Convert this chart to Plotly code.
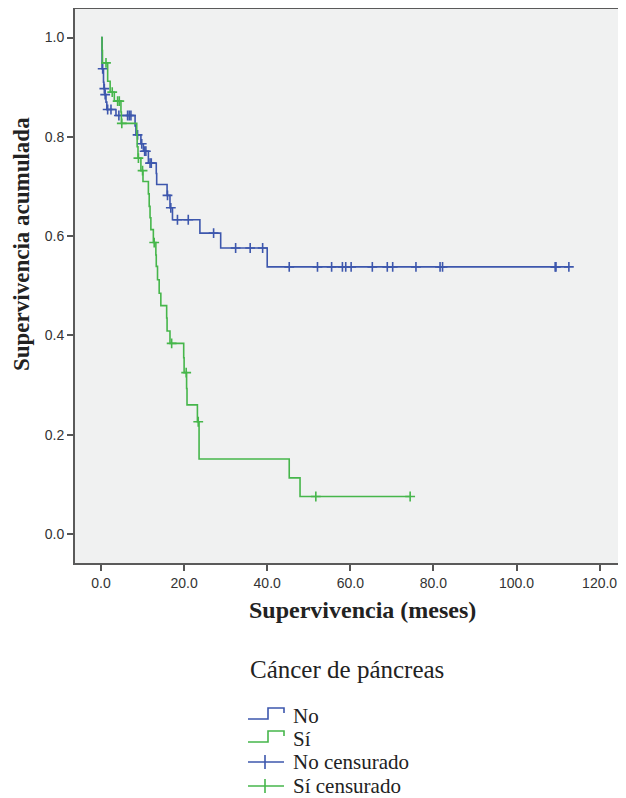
import numpy as np
import plotly.graph_objects as go

# ---- Data (Kaplan-Meier steps) ----
no_event_t = [0.25, 0.6, 0.7, 0.9, 1.2, 1.4, 3.6, 8.2, 8.4, 9.6, 10.2, 11.4, 13.3, 13.4,
              15.9, 16.6, 17.2, 23.8, 28.8, 40.0]
no_event_s = [0.937, 0.91, 0.897, 0.885, 0.87, 0.855, 0.843, 0.822, 0.804, 0.786, 0.771,
              0.747, 0.726, 0.704, 0.682, 0.657, 0.633, 0.606, 0.576, 0.538]
no_censor_t = [0.4, 0.8, 1.0, 1.6, 2.4, 4.3, 6.4, 6.8, 7.2, 8.8, 9.8, 10.5, 10.8, 11.8, 12.1,
               16.0, 16.8, 18.4, 21.0, 27.1, 32.4, 35.9, 38.9, 45.3, 52.1, 55.5, 58.1, 58.9,
               60.2, 65.3, 68.9, 70.2, 75.8, 81.6, 82.2, 109.3, 109.5, 112.6]

si_event_t = [0.25, 0.35, 1.6, 2.2, 3.2, 4.8, 4.9, 8.6, 8.7, 8.9, 9.6, 10.1, 11.4, 11.6, 11.8,
              12.0, 12.6, 13.2, 13.3, 13.6, 14.0, 14.4, 15.8, 15.9, 16.6, 19.9, 20.0, 20.6,
              20.7, 23.2, 23.6, 45.3, 47.9]
si_event_s = [0.974, 0.949, 0.912, 0.89, 0.872, 0.85, 0.827, 0.805, 0.78, 0.757, 0.732, 0.71,
              0.685, 0.66, 0.637, 0.613, 0.587, 0.562, 0.539, 0.512, 0.485, 0.46, 0.435, 0.409,
              0.384, 0.355, 0.325, 0.293, 0.26, 0.226, 0.151, 0.113, 0.0755]
si_censor_t = [1.2, 2.7, 4.0, 4.4, 5.0, 9.0, 10.0, 12.8, 17.0, 20.5, 23.4, 51.7, 74.4]

x_ticks = [0, 20, 40, 60, 80, 100, 120]
x_tick_labels = ["0.0", "20.0", "40.0", "60.0", "80.0", "100.0", "120.0"]
y_ticks = [0.0, 0.2, 0.4, 0.6, 0.8, 1.0]
y_tick_labels = ["0.0", "0.2", "0.4", "0.6", "0.8", "1.0"]

series_names = ["No", "Sí"]
censor_names = ["No censurado", "Sí censurado"]
legend_title = "Cáncer de páncreas"
x_title = "Supervivencia (meses)"
y_title = "Supervivencia acumulada"

BLUE = "#3d57ad"
GREEN = "#46b64b"


def step_value(ev_t, ev_s, t):
    ev_t = np.asarray(ev_t)
    idx = np.searchsorted(ev_t, t, side="right") - 1
    return 1.0 if idx < 0 else ev_s[idx]


fig = go.Figure()
for ev_t, ev_s, cen_t, col in [(no_event_t, no_event_s, no_censor_t, BLUE),
                               (si_event_t, si_event_s, si_censor_t, GREEN)]:
    xs = [0.0] + list(ev_t)
    ys = [1.0] + list(ev_s)
    end_t = max(cen_t)
    if end_t > xs[-1]:
        xs.append(end_t)
        ys.append(ys[-1])
    fig.add_trace(go.Scatter(x=xs, y=ys, mode="lines", line=dict(color=col, width=1.6, shape="hv"),
                             showlegend=False, hoverinfo="skip"))
    cy = [step_value(ev_t, ev_s, t) for t in cen_t]
    fig.add_trace(go.Scatter(x=cen_t, y=cy, mode="markers",
                             marker=dict(symbol="cross-thin", size=7, line=dict(color=col, width=1.6)),
                             showlegend=False, hoverinfo="skip"))

# ---- layout geometry (pixels); page body has an 8px margin ----
OFF = 8
W, H = 618, 790
L, R, T = 67, 0, 1
PH = 554
B = H - T - PH
PW = W - L - R
PLOT_LEFT = OFF + L
PLOT_BOTTOM = OFF + T + PH


def px(x):
    return (x - PLOT_LEFT) / PW


def py(y):
    return (PLOT_BOTTOM - y) / PH


fig.update_layout(
    width=W, height=H,
    margin=dict(l=L, r=R, t=T, b=B),
    paper_bgcolor="white",
    plot_bgcolor="#f0f1f1",
    showlegend=False,
    xaxis=dict(range=[-6.26, 126.35], tickvals=x_ticks, ticktext=x_tick_labels,
               ticks="outside", ticklen=6, tickwidth=1.5, tickcolor="#555555",
               showgrid=False, zeroline=False, showline=True, linecolor="#5a5a5a",
               linewidth=2, mirror=True,
               tickfont=dict(family="Liberation Sans, Arial", size=14, color="#333333")),
    yaxis=dict(range=[-0.0585, 1.0575], tickvals=y_ticks, ticktext=y_tick_labels,
               ticks="outside", ticklen=6, tickwidth=1.5, tickcolor="#555555",
               showgrid=False, zeroline=False, showline=True, linecolor="#5a5a5a",
               linewidth=2, mirror=False,
               tickfont=dict(family="Liberation Sans, Arial", size=14, color="#333333")),
)

serif = "Liberation Serif, Times New Roman, serif"
ann = []
ann.append(dict(text=f"<b>{x_title}</b>", x=px(362), y=py(610), xref="paper", yref="paper",
                showarrow=False, xanchor="center", yanchor="middle",
                font=dict(family=serif, size=24, color="#222222")))
ann.append(dict(text=f"<b>{y_title}</b>", x=px(21), y=py(244), xref="paper", yref="paper",
                showarrow=False, xanchor="center", yanchor="middle", textangle=-90,
                font=dict(family=serif, size=23, color="#222222")))
ann.append(dict(text=legend_title, x=px(248), y=py(669), xref="paper", yref="paper",
                showarrow=False, xanchor="left", yanchor="middle",
                font=dict(family=serif, size=25, color="#222222")))

rows = [716, 739, 762, 786]
labels = series_names + censor_names
colors = [BLUE, GREEN, BLUE, GREEN]
shapes = []
for i, (ry, lab, col) in enumerate(zip(rows, labels, colors)):
    ann.append(dict(text=lab, x=px(291), y=py(ry), xref="paper", yref="paper",
                    showarrow=False, xanchor="left", yanchor="middle",
                    font=dict(family=serif, size=21, color="#222222")))
    if i < 2:
        pts = [(248, ry + 3), (268, ry + 3), (268, ry - 8), (284, ry - 8), (284, ry - 3)]
        path = "M " + " L ".join(f"{px(a)},{py(b)}" for a, b in pts)
        shapes.append(dict(type="path", path=path, xref="paper", yref="paper",
                           line=dict(color=col, width=1.6)))
    else:
        shapes.append(dict(type="line", x0=px(248), x1=px(284), y0=py(ry), y1=py(ry),
                           xref="paper", yref="paper", line=dict(color=col, width=1.6)))
        shapes.append(dict(type="line", x0=px(265), x1=px(265), y0=py(ry - 7), y1=py(ry + 7),
                           xref="paper", yref="paper", line=dict(color=col, width=1.6)))

fig.update_layout(annotations=ann, shapes=shapes)
fig.write_html("out.html")
